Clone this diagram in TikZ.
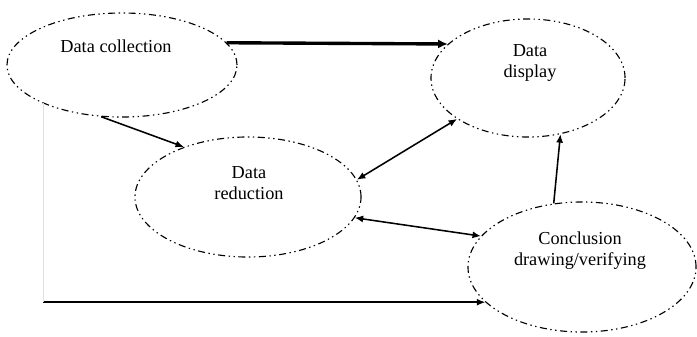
\documentclass[tikz,border=0pt]{standalone}
\usepackage{fontspec}
\setmainfont{Liberation Serif}
\usetikzlibrary{arrows.meta, shapes.geometric, positioning}
\tikzstyle{every picture} = [x=0.025cm, y=-0.025cm]

\begin{document}
\begin{tikzpicture} [phase/.style={ellipse, draw, line width=.8pt, dash pattern=on 5pt off 2.5pt on 1pt off 2.5pt on 1pt off 2.5pt, inner sep=0pt},
                     lbl/.style={font=\fontsize{13}{15}\selectfont, align=center, inner sep=0pt},
                     flow/.style={line width=1.1pt, -{Latex[length=6pt, width=5pt]}},
                     both/.style={line width=1.1pt, {Latex[length=6pt, width=5pt]}-{Latex[length=6pt, width=5pt]}}]
            \useasboundingbox (0,0) rectangle (697,336);
            \node (collection) [phase, minimum width=5.75cm, minimum height=2.6cm] at (122,65) {};
            \node (display) [phase, minimum width=4.85cm, minimum height=2.95cm] at (528,78) {};
            \node (reduction) [phase, minimum width=5.65cm, minimum height=3cm] at (248,197) {};
            \node (conclusion) [phase, minimum width=5.7cm, minimum height=3.25cm] at (582,267) {};

            \node (collection text) [lbl] at ([xshift=-.15cm, yshift=.475cm]collection.center) {Data collection};
            \node (display text) [lbl] at ([xshift=.05cm, yshift=.375cm]display.center) {Data\\display};
            \node (reduction text) [lbl] at ([xshift=.025cm, yshift=.35cm]reduction.center) {Data\\reduction};
            \node (conclusion text) [lbl] at ([xshift=-.05cm, yshift=.4cm]conclusion.center) {Conclusion\\drawing/verifying};

            \coordinate (corner) at (collection.206 |- conclusion.200);

            \draw[line width=2.4pt, -{Latex[length=7pt, width=6.5pt]}] (collection.12) -- (display.157);
            \path (collection.248) edge[flow] (reduction.142)
                  (reduction.9) edge[both] (display.210)
                  (reduction.349) edge[both] (conclusion.163)
                  (conclusion.114) edge[flow] (display.300)
                  (corner) edge[flow] (conclusion.200);
            \draw[black!12, line width=.6pt] (collection.206) -- (corner);
        \end{tikzpicture}
\end{document}
